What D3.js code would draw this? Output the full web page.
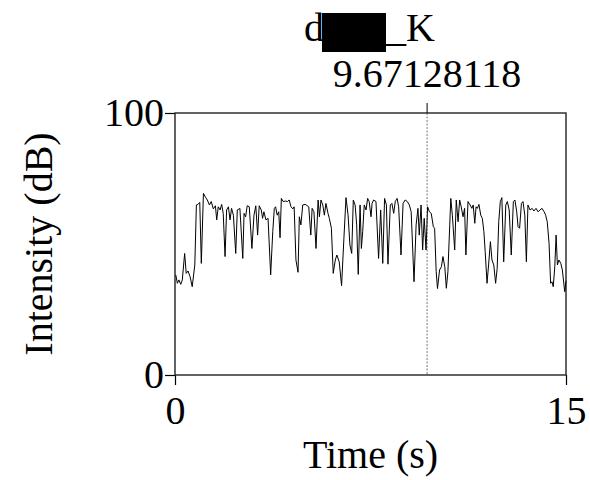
<!DOCTYPE html>
<html>
<head>
<meta charset="utf-8">
<script src="https://cdn.jsdelivr.net/npm/d3@7"></script>
<style>
  body { margin: 0; background: #fff; }
  text { font-family: "Liberation Serif", "Times New Roman", serif; }
</style>
</head>
<body>
<script>
// intensity contour (time in s, intensity in dB)
const times = [
  0.03, 0.09, 0.15, 0.22, 0.28, 0.37, 0.43, 0.50, 0.58, 0.66, 0.76, 0.82, 0.88, 0.95, 1.01, 1.09, 1.18, 1.24, 1.32, 1.39,
  1.47, 1.55, 1.60, 1.66, 1.73, 1.79, 1.85, 1.92, 1.98, 2.05, 2.11, 2.17, 2.24, 2.33, 2.39, 2.46,
  2.49, 2.60, 2.65, 2.71, 2.77, 2.85, 2.95, 3.03, 3.10, 3.17, 3.23, 3.31, 3.36, 3.41, 3.49, 3.57, 3.67, 3.75, 3.81, 3.86,
  3.92, 3.98, 4.03, 4.08, 4.15, 4.23, 4.31, 4.38, 4.45, 4.52, 4.57, 4.64, 4.72, 4.77, 4.83, 4.90, 4.99,
  5.03, 5.13, 5.21, 5.26, 5.33, 5.41, 5.49, 5.54, 5.60, 5.67, 5.73, 5.79, 5.87, 5.92, 6.00, 6.07, 6.15, 6.21, 6.30, 6.39,
  6.48, 6.56, 6.64, 6.71, 6.78, 6.84, 6.91, 6.97, 7.03, 7.10, 7.15, 7.20, 7.26, 7.33, 7.39, 7.45, 7.52,
  7.56, 7.62, 7.71, 7.81, 7.89, 7.97, 8.04, 8.11, 8.17, 8.26, 8.32, 8.39, 8.45, 8.52, 8.58, 8.67, 8.75, 8.83, 8.91, 8.99,
  9.06, 9.17, 9.25, 9.32, 9.37, 9.44, 9.50, 9.56, 9.63, 9.69, 9.76, 9.83, 9.91, 9.96, 10.02, 10.07,
  10.15, 10.22, 10.28, 10.35, 10.41, 10.47, 10.54, 10.58, 10.64, 10.73, 10.79, 10.86, 10.92, 10.98, 11.05, 11.11, 11.16,
  11.24, 11.32, 11.39, 11.44, 11.50, 11.55, 11.60, 11.66, 11.73, 11.79, 11.85, 11.90, 11.97, 12.03, 12.10, 12.16, 12.23,
  12.30, 12.36, 12.42, 12.48, 12.54, 12.61,
  12.69, 12.75, 12.82, 12.90, 12.98, 13.04, 13.11, 13.16, 13.22, 13.29, 13.35, 13.42, 13.48, 13.54, 13.62, 13.70, 13.77,
  13.85, 13.93, 14.00, 14.08, 14.16, 14.22, 14.28, 14.35, 14.41, 14.46, 14.51, 14.57, 14.62, 14.67, 14.73, 14.80, 14.86,
  14.95, 15.00
];
const intensity = [
  38.2, 35.0, 36.3, 34.6, 36.3, 46.4, 38.8, 39.7, 37.5, 33.7, 42.0, 64.9, 65.1, 65.9, 42.6, 69.3, 67.7, 66.8, 64.9, 66.2,
  63.4, 64.6, 59.2, 64.2, 63.0, 65.1, 61.7, 45.2, 63.0, 64.2, 59.2, 63.6, 61.0, 46.4, 63.0, 63.4,
  63.6, 44.5, 61.7, 60.4, 64.6, 64.2, 48.3, 61.0, 64.6, 53.4, 64.6, 63.0, 59.8, 62.3, 59.2, 59.8, 38.2, 54.7, 63.6, 64.2,
  61.0, 62.3, 52.4, 67.4, 66.2, 66.4, 66.2, 66.8, 64.2, 63.4, 64.2, 43.9, 39.2, 60.4, 57.3, 64.9, 65.1,
  64.9, 64.2, 53.4, 63.6, 62.3, 48.3, 66.8, 60.4, 66.8, 64.9, 61.0, 65.5, 61.7, 59.8, 56.0, 38.8, 43.9, 45.8, 43.2, 34.1,
  52.2, 67.7, 61.0, 49.6, 46.4, 66.8, 64.9, 57.3, 38.4, 64.9, 48.3, 54.7, 64.9, 63.0, 67.4, 66.2, 60.4,
  65.5, 66.8, 66.2, 44.5, 63.0, 42.6, 67.4, 64.9, 42.3, 64.9, 65.5, 61.7, 66.2, 67.4, 64.2, 45.8, 65.5, 66.8, 66.2, 64.9,
  62.3, 35.6, 57.3, 63.6, 53.4, 64.9, 47.7, 59.8, 47.7, 64.2, 62.3, 61.7, 56.6, 56.0, 39.4, 33.0,
  40.1, 41.3, 45.2, 41.3, 33.1, 39.4, 57.3, 67.4, 61.0, 47.7, 66.8, 58.5, 66.8, 64.2, 60.4, 63.6, 45.8,
  66.2, 64.9, 63.6, 64.9, 57.9, 64.2, 63.6, 65.1, 61.0, 59.8, 54.7, 47.1, 35.0, 42.0, 50.9, 43.9, 42.0,
  35.0, 40.7, 58.5, 66.2, 67.7, 43.2,
  64.9, 66.2, 63.0, 45.8, 66.2, 66.8, 62.3, 56.6, 56.0, 65.5, 66.2, 61.0, 43.2, 64.9, 63.0, 63.6, 62.6,
  63.6, 62.3, 63.0, 63.6, 62.3, 61.0, 58.5, 50.3, 35.0, 35.6, 33.7, 41.3, 53.4, 42.0, 43.9, 42.6, 40.1,
  31.8, 36.0
];
const xTicks = [0, 15];
const yTicks = [0, 100];
const cursorTime = 9.67128118;
const titleLeft = 'd';
const titleRight = '_K';

const width = 590, height = 480;
const mLeft = 175, mRight = 566, mTop = 113, mBottom = 375;

const svg = d3.select('body').append('svg')
  .attr('width', width).attr('height', height);

const x = d3.scaleLinear().domain([0, 15]).range([mLeft, mRight]);
const y = d3.scaleLinear().domain([0, 100]).range([mBottom, mTop]);

// axes
const yAxis = svg.append('g')
  .attr('transform', `translate(${mLeft},0)`)
  .call(d3.axisLeft(y).tickValues(yTicks).tickSize(10).tickSizeOuter(0).tickPadding(1)
    .tickFormat(d3.format('d')));
const xAxis = svg.append('g')
  .attr('transform', `translate(0,${mBottom})`)
  .call(d3.axisBottom(x).tickValues(xTicks).tickSize(10).tickSizeOuter(0).tickPadding(11)
    .tickFormat(d3.format('d')));

[yAxis, xAxis].forEach(g => {
  g.select('.domain').remove();
  g.selectAll('line').attr('stroke', '#000').attr('stroke-width', 1.2);
  g.selectAll('text').attr('fill', '#000')
    .style('font-family', '"Liberation Serif", serif').style('font-size', '40px');
});

// frame
svg.append('rect')
  .attr('x', mLeft).attr('y', mTop)
  .attr('width', mRight - mLeft).attr('height', mBottom - mTop)
  .attr('fill', 'none').attr('stroke', '#222').attr('stroke-width', 1.4);

// cursor
const cx = x(cursorTime);
svg.append('line')
  .attr('x1', cx).attr('x2', cx).attr('y1', mTop - 10).attr('y2', mTop)
  .attr('stroke', '#000').attr('stroke-width', 1);
svg.append('line')
  .attr('x1', cx).attr('x2', cx).attr('y1', mTop).attr('y2', mBottom)
  .attr('stroke', '#555').attr('stroke-width', 0.8).attr('stroke-dasharray', '2,1.5');

// intensity curve
const line = d3.line()
  .x((d, i) => x(times[i]))
  .y(d => y(d));
svg.append('path')
  .datum(intensity)
  .attr('d', line)
  .attr('fill', 'none')
  .attr('stroke', '#000')
  .attr('stroke-width', 1)
  .attr('stroke-linejoin', 'round');

// labels
svg.append('text')
  .attr('x', cx).attr('y', 87)
  .attr('text-anchor', 'middle')
  .style('font-size', '40px')
  .text(cursorTime.toFixed(8));

svg.append('text')
  .attr('x', 304).attr('y', 41)
  .style('font-size', '40px')
  .text(titleLeft);
svg.append('rect')
  .attr('x', 322).attr('y', 13).attr('width', 64).attr('height', 39)
  .attr('fill', '#000');
svg.append('text')
  .attr('x', 386).attr('y', 41)
  .style('font-size', '40px')
  .text(titleRight);

svg.append('text')
  .attr('x', (mLeft + mRight) / 2).attr('y', 468)
  .attr('text-anchor', 'middle')
  .style('font-size', '40px')
  .text('Time (s)');

svg.append('text')
  .attr('transform', `translate(52,${(mTop + mBottom) / 2}) rotate(-90)`)
  .attr('text-anchor', 'middle')
  .style('font-size', '40px')
  .text('Intensity (dB)');
</script>
</body>
</html>
